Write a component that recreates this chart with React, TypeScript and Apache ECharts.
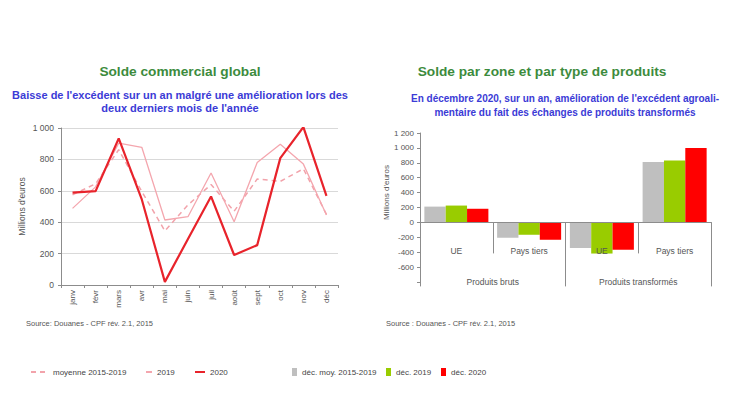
import React, { useEffect, useRef } from "react";
import * as echarts from "echarts";

const months = ["janv", "févr", "mars", "avr", "mai", "juin", "juil", "août", "sept", "oct", "nov", "déc"];
const avg1519 = [575, 645, 862, 595, 345, 510, 640, 470, 675, 660, 740, 450];
const v2019 = [488, 625, 904, 877, 414, 435, 713, 403, 780, 896, 770, 446];
const v2020 = [588, 598, 934, 545, 20, 293, 564, 191, 254, 808, 1006, 568];
const leftTicks = { min: 0, max: 1000, interval: 200 };

const zones = ["UE", "Pays tiers", "UE", "Pays tiers"];
const productTypes = ["Produits bruts", "Produits transformés"];
const decAvg = [212, -206, -344, 810];
const dec2019 = [226, -166, -418, 830];
const dec2020 = [183, -233, -367, 998];
const rightTicks = { min: -800, max: 1200, interval: 200 };

const FONT = "'Liberation Sans', Arial, sans-serif";
const AXIS_GRAY = "#8c8c8c";
const LABEL_GRAY = "#555555";

const fmt = (v: number) => String(v).replace(/\B(?=(\d{3})+(?!\d))/g, " ");

export default function App() {
  const ref = useRef<HTMLDivElement>(null);
  useEffect(() => {
    if (!ref.current) return;
    const chart = echarts.init(ref.current, null, { renderer: "svg" });
    const titleStyle = { fontFamily: FONT, fontSize: 13.7, fontWeight: "bold" as const, color: "#3d8b3d" };
    const subStyleL = { fontFamily: FONT, fontSize: 11, fontWeight: "bold" as const, color: "#3b3bd6", lineHeight: 13.4, align: "center" as const };
    const subStyleR = { fontFamily: FONT, fontSize: 10, fontWeight: "bold" as const, color: "#3b3bd6", lineHeight: 13.7, align: "center" as const };
    const legendText = { fontFamily: FONT, fontSize: 8, color: "#444" };
    const lineLegendItem = { opacity: 0 };

    const gridR = { left: 420, top: 133, width: 291, height: 149 };
    const zeroFromBottom = (gridR.height * (0 - rightTicks.min)) / (rightTicks.max - rightTicks.min);
    const zeroFromTop = gridR.height - zeroFromBottom;

    chart.setOption({
      animation: false,
      backgroundColor: "#ffffff",
      title: [
        { text: "Solde commercial global", left: 180, top: 64, textAlign: "center", padding: 0, textStyle: titleStyle },
        { text: "Baisse de l'excédent sur un an malgré une amélioration lors des\ndeux derniers mois de l'année", left: 180, top: 88, textAlign: "center", padding: 0, textStyle: subStyleL },
        { text: "Solde par zone et par type de produits", left: 542, top: 64, textAlign: "center", padding: 0, textStyle: titleStyle },
        { text: "En décembre 2020, sur un an, amélioration de l'excédent agroali-\nmentaire du fait des échanges de produits transformés", left: 565, top: 92, textAlign: "center", padding: 0, textStyle: subStyleR },
      ],
      legend: [
        { data: ["moyenne 2015-2019"], left: 30, top: 368, padding: 0, itemWidth: 17, itemHeight: 8, itemStyle: lineLegendItem, textStyle: legendText },
        { data: ["2019"], left: 145, top: 368, padding: 0, itemWidth: 6, itemHeight: 8, itemStyle: lineLegendItem, textStyle: legendText },
        { data: ["2020"], left: 194, top: 368, padding: 0, itemWidth: 10, itemHeight: 8, itemStyle: lineLegendItem, textStyle: legendText },
        { data: ["déc. moy. 2015-2019"], left: 292, top: 368, padding: 0, itemWidth: 5, itemHeight: 8, icon: "rect", textStyle: legendText },
        { data: ["déc. 2019"], left: 386, top: 368, padding: 0, itemWidth: 5, itemHeight: 8, icon: "rect", textStyle: legendText },
        { data: ["déc. 2020"], left: 441, top: 368, padding: 0, itemWidth: 5, itemHeight: 8, icon: "rect", textStyle: legendText },
      ],
      grid: [
        { left: 61, top: 128, width: 277, height: 157 },
        gridR,
      ],
      xAxis: [
        {
          type: "category", gridIndex: 0, data: months, boundaryGap: true,
          axisLine: { lineStyle: { color: AXIS_GRAY } },
          axisTick: { show: true, length: 3, lineStyle: { color: AXIS_GRAY } },
          axisLabel: { rotate: 90, margin: 5, fontFamily: FONT, fontSize: 8, color: LABEL_GRAY },
        },
        {
          type: "category", gridIndex: 1, data: zones, boundaryGap: true, position: "bottom",
          offset: -zeroFromBottom,
          axisLine: { show: true, onZero: false, lineStyle: { color: AXIS_GRAY } },
          axisTick: { show: true, interval: 0, length: 31, lineStyle: { color: AXIS_GRAY, width: 1 } },
          axisLabel: { margin: 24, interval: 0, fontFamily: FONT, fontSize: 8.5, color: LABEL_GRAY },
          z: 5,
        },
        {
          type: "category", gridIndex: 1, data: productTypes, boundaryGap: true, position: "top",
          offset: -zeroFromTop,
          axisLine: { show: false, onZero: false },
          axisTick: { show: true, interval: 0, inside: true, length: 64, lineStyle: { color: AXIS_GRAY, width: 1 } },
          axisLabel: { inside: true, interval: 0, margin: 55, fontFamily: FONT, fontSize: 8.5, color: LABEL_GRAY },
        },
      ],
      yAxis: [
        {
          type: "value", gridIndex: 0, ...leftTicks,
          name: "Millions d'euros", nameLocation: "middle", nameGap: 35,
          nameTextStyle: { fontFamily: FONT, fontSize: 8.5, color: LABEL_GRAY },
          axisLine: { show: true, lineStyle: { color: AXIS_GRAY } },
          axisTick: { show: true, length: 3, lineStyle: { color: AXIS_GRAY } },
          axisLabel: { margin: 7, fontFamily: FONT, fontSize: 8.5, color: LABEL_GRAY, formatter: (v: number) => fmt(v) },
          splitLine: { lineStyle: { color: "#d9d9d9", width: 1 } },
        },
        {
          type: "value", gridIndex: 1, ...rightTicks,
          name: "Millions d'euros", nameLocation: "middle", nameGap: 26,
          nameTextStyle: { fontFamily: FONT, fontSize: 8, color: LABEL_GRAY, padding: [0, 0, 0, 30] },
          axisLine: { show: true, lineStyle: { color: AXIS_GRAY } },
          axisTick: { show: true, length: 3, lineStyle: { color: AXIS_GRAY } },
          axisLabel: { margin: 6, fontFamily: FONT, fontSize: 8, color: LABEL_GRAY, formatter: (v: number) => (v === rightTicks.min ? "" : fmt(v)) },
          splitLine: { show: false },
        },
      ],
      graphic: [
        { type: "text", left: 26, top: 319, style: { text: "Source: Douanes - CPF rév. 2.1, 2015", fontFamily: FONT, fontSize: 7.5, fill: LABEL_GRAY } },
        { type: "text", left: 386, top: 319, style: { text: "Source : Douanes - CPF rév. 2.1, 2015", fontFamily: FONT, fontSize: 7.5, fill: LABEL_GRAY } },
      ],
      series: [
        {
          name: "moyenne 2015-2019", type: "line", xAxisIndex: 0, yAxisIndex: 0, data: avg1519,
          symbol: "none", lineStyle: { color: "#f2a3ab", width: 1.5, type: [5, 4] }, itemStyle: { color: "#f2a3ab" }, z: 2,
        },
        {
          name: "2019", type: "line", xAxisIndex: 0, yAxisIndex: 0, data: v2019,
          symbol: "none", lineStyle: { color: "#f4a6ae", width: 1.3 }, itemStyle: { color: "#f4a6ae" }, z: 3,
        },
        {
          name: "2020", type: "line", xAxisIndex: 0, yAxisIndex: 0, data: v2020,
          symbol: "none", lineStyle: { color: "#e8232b", width: 2.2 }, itemStyle: { color: "#e8232b" }, z: 4,
        },
        {
          name: "déc. moy. 2015-2019", type: "bar", xAxisIndex: 1, yAxisIndex: 1, data: decAvg,
          itemStyle: { color: "#bfbfbf" }, barGap: "0%", barCategoryGap: "12%",
        },
        {
          name: "déc. 2019", type: "bar", xAxisIndex: 1, yAxisIndex: 1, data: dec2019,
          itemStyle: { color: "#99cc00" }, barGap: "0%", barCategoryGap: "12%",
        },
        {
          name: "déc. 2020", type: "bar", xAxisIndex: 1, yAxisIndex: 1, data: dec2020,
          itemStyle: { color: "#ff0000" }, barGap: "0%", barCategoryGap: "12%",
        },
      ],
    });
    return () => chart.dispose();
  }, []);
  return (
    <div
      ref={ref}
      style={{ position: "absolute", left: 0, top: 0, width: 730, height: 400, background: "#fff" }}
    />
  );
}
